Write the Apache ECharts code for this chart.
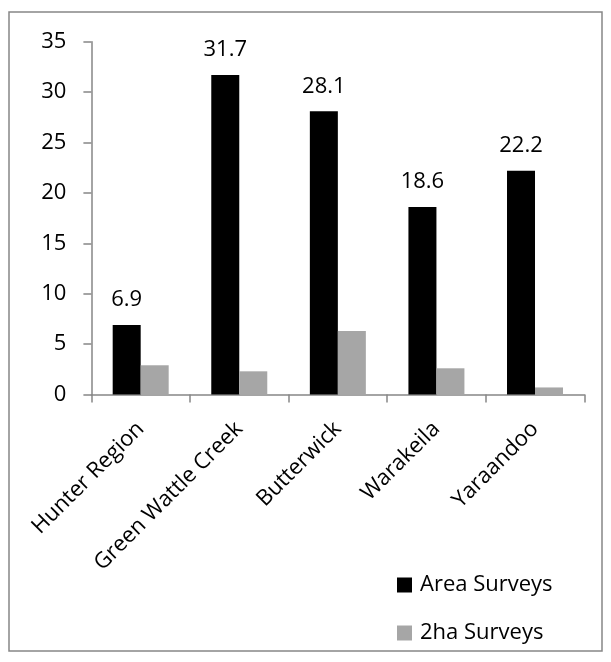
<!DOCTYPE html>
<html>
<head>
<meta charset="utf-8">
<script src="https://cdn.jsdelivr.net/npm/echarts@6/dist/echarts.min.js"></script>
<style>
  html, body { margin: 0; padding: 0; background: #ffffff; }
  #chart { width: 611px; height: 662px; }
</style>
</head>
<body>
<div id="chart"></div>
<script>
// Survey results per site
const categories = ['Hunter Region', 'Green Wattle Creek', 'Butterwick', 'Warakeila', 'Yaraandoo'];
const areaSurveys = [6.9, 31.7, 28.1, 18.6, 22.2];
const twoHaSurveys = [2.9, 2.3, 6.3, 2.6, 0.7];
const seriesNames = ['Area Surveys', '2ha Surveys'];

const FONT = '"Open Sans", "Noto Sans", sans-serif';
const AXIS_COLOR = '#868686';

const chart = echarts.init(document.getElementById('chart'), null, { renderer: 'canvas' });

chart.setOption({
  animation: false,
  backgroundColor: '#ffffff',
  textStyle: { fontFamily: FONT },
  graphic: [{
    type: 'rect',
    shape: { x: 9, y: 12, width: 593, height: 639 },
    style: { fill: 'none', stroke: AXIS_COLOR, lineWidth: 1.5 },
    silent: true
  }],
  grid: { left: 91.4, right: 26.7, top: 41.7, bottom: 267.5, containLabel: false },
  legend: {
    orient: 'vertical',
    left: 392,
    top: 569,
    itemWidth: 15,
    itemHeight: 15,
    itemGap: 26,
    icon: 'rect',
    data: seriesNames,
    textStyle: {
      fontFamily: FONT,
      fontSize: 22,
      lineHeight: 22,
      color: '#000000',
      padding: [0, 0, 0, 3]
    }
  },
  xAxis: {
    type: 'category',
    data: categories,
    axisLine: { lineStyle: { color: AXIS_COLOR, width: 1.5 } },
    axisTick: { show: true, length: 8, alignWithLabel: false, lineStyle: { color: AXIS_COLOR, width: 1.5 } },
    axisLabel: {
      interval: 0,
      rotate: 45,
      margin: 31,
      fontFamily: FONT,
      fontSize: 22,
      color: '#000000'
    }
  },
  yAxis: {
    type: 'value',
    min: 0,
    max: 35,
    interval: 5,
    splitLine: { show: false },
    axisLine: { show: true, lineStyle: { color: AXIS_COLOR, width: 1.5 } },
    axisTick: { show: true, length: 8, lineStyle: { color: AXIS_COLOR, width: 1.5 } },
    axisLabel: {
      margin: 25,
      fontFamily: FONT,
      fontSize: 22,
      color: '#000000'
    }
  },
  series: [
    {
      name: seriesNames[0],
      type: 'bar',
      data: areaSurveys,
      barWidth: 28,
      barGap: '0%',
      itemStyle: { color: '#000000' },
      label: {
        show: true,
        position: 'top',
        distance: 14,
        fontFamily: FONT,
        fontSize: 22,
        color: '#000000'
      }
    },
    {
      name: seriesNames[1],
      type: 'bar',
      data: twoHaSurveys,
      barWidth: 28,
      barGap: '0%',
      itemStyle: { color: '#a6a6a6' }
    }
  ]
});
</script>
</body>
</html>
